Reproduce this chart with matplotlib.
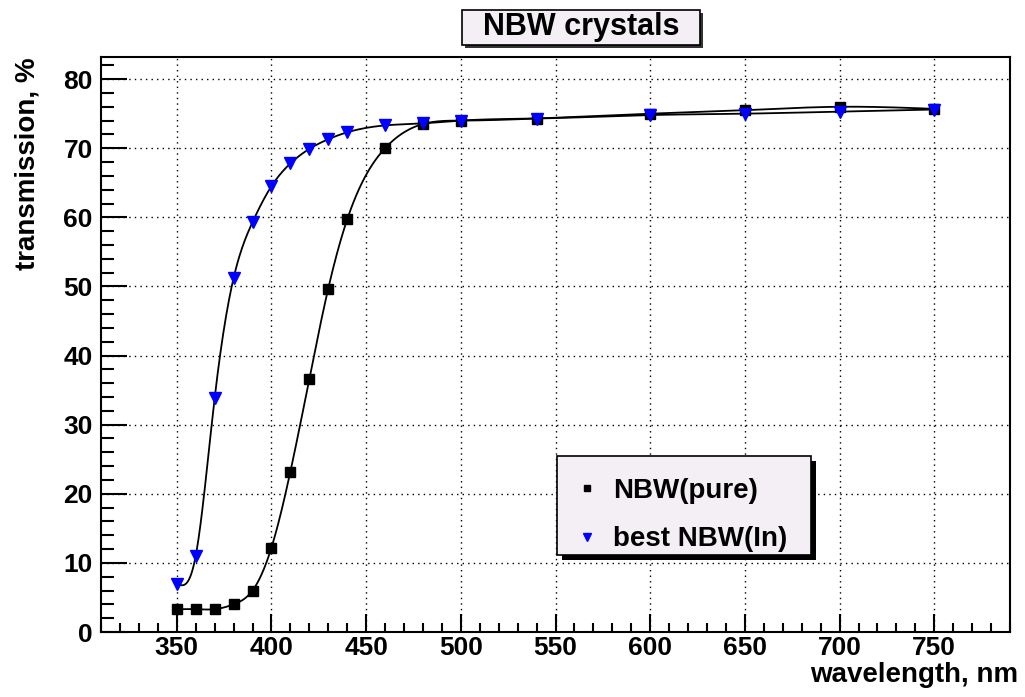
import numpy as np
import matplotlib
matplotlib.use("Agg")
import matplotlib.pyplot as plt
from matplotlib.patches import Rectangle
from matplotlib.lines import Line2D
from matplotlib.ticker import MultipleLocator

# ---- data ----
wavelength = [350, 360, 370, 380, 390, 400, 410, 420, 430, 440, 460, 480, 500, 540, 600, 650, 700, 750]
nbw_pure = [3.3, 3.3, 3.3, 4.0, 6.0, 12.2, 23.2, 36.6, 49.7, 59.7, 70.0, 73.5, 74.0, 74.3, 75.0, 75.5, 76.0, 75.7]
nbw_in = [7.0, 11.0, 33.8, 51.2, 59.3, 64.5, 67.8, 69.9, 71.3, 72.3, 73.3, 73.6, 74.0, 74.3, 74.8, 75.0, 75.3, 75.6]
series_labels = ["NBW(pure)", "best NBW(In)"]
title = "NBW crystals"
xlabel = "wavelength, nm"
ylabel = "transmission, %"


def natural_spline(x, y, xs):
    x = np.asarray(x, float); y = np.asarray(y, float)
    n = len(x)
    h = np.diff(x)
    A = np.zeros((n, n)); b = np.zeros(n)
    A[0, 0] = 1; A[-1, -1] = 1
    for i in range(1, n - 1):
        A[i, i - 1] = h[i - 1]
        A[i, i] = 2 * (h[i - 1] + h[i])
        A[i, i + 1] = h[i]
        b[i] = 6 * ((y[i + 1] - y[i]) / h[i] - (y[i] - y[i - 1]) / h[i - 1])
    M = np.linalg.solve(A, b)
    idx = np.clip(np.searchsorted(x, xs) - 1, 0, n - 2)
    x0 = x[idx]; x1 = x[idx + 1]; hh = x1 - x0
    t0 = x1 - xs; t1 = xs - x0
    return (M[idx] * t0**3 / (6 * hh) + M[idx + 1] * t1**3 / (6 * hh)
            + (y[idx] / hh - M[idx] * hh / 6) * t0
            + (y[idx + 1] / hh - M[idx + 1] * hh / 6) * t1)


W, H = 1025, 697
fig = plt.figure(figsize=(W / 100, H / 100), dpi=100)
fig.patch.set_facecolor("white")
plt.rcParams['font.family'] = ['Liberation Sans', 'DejaVu Sans']

L, R, T, B = 101, 1010, 57, 632
ax = fig.add_axes([L / W, (H - B) / H, (R - L) / W, (B - T) / H])
ax.set_xlim(310, 790)
ax.set_ylim(0, 83.2)

xs = np.linspace(350, 750, 800)
ax.plot(xs, natural_spline(wavelength, nbw_pure, xs), color="black", lw=1.3, zorder=3)
ax.plot(xs, natural_spline(wavelength, nbw_in, xs), color="black", lw=1.3, zorder=3)
ax.plot(wavelength, nbw_pure, ls="none", marker="s", ms=7.5, color="black", zorder=4)
ax.plot(wavelength, nbw_in, ls="none", marker="v", ms=8.5, color="#0000ff", zorder=4)

ax.xaxis.set_major_locator(MultipleLocator(50))
ax.xaxis.set_minor_locator(MultipleLocator(10))
ax.yaxis.set_major_locator(MultipleLocator(10))
ax.yaxis.set_minor_locator(MultipleLocator(2))
ax.grid(True, which="major", ls=(0, (1, 3)), color="black", lw=1.0)
for s in ax.spines.values():
    s.set_linewidth(1.5)
ax.tick_params(axis="x", which="major", direction="in", length=13, width=1.5, pad=3, labelsize=19)
ax.tick_params(axis="x", which="minor", direction="in", length=6.5, width=1.5)
ax.tick_params(axis="y", which="major", direction="in", length=19, width=1.5, pad=6, labelsize=19)
ax.tick_params(axis="y", which="minor", direction="in", length=9.5, width=1.5)
for lab in ax.get_xticklabels() + ax.get_yticklabels():
    lab.set_fontweight("bold")

fig.text(1018 / W, 1 - 675 / H, xlabel, ha="right", va="center", fontsize=20, fontweight="bold")
fig.text(28 / W, 1 - 57 / H, ylabel, ha="center", va="top", rotation=90, fontsize=20, fontweight="bold")

# title box with shadow
fill = "#f4eff4"
tx0, tx1, ty0, ty1 = 462, 700, 10, 45
fig.patches.append(Rectangle((tx0 / W + 3 / W, 1 - (ty1 + 3) / H), (tx1 - tx0) / W, (ty1 - ty0) / H,
                             transform=fig.transFigure, facecolor="#333333", edgecolor="none", zorder=1))
fig.patches.append(Rectangle((tx0 / W, 1 - ty1 / H), (tx1 - tx0) / W, (ty1 - ty0) / H,
                             transform=fig.transFigure, facecolor=fill, edgecolor="black", lw=1.2, zorder=2))
fig.text((tx0 + tx1) / 2 / W, 1 - (ty0 + ty1) / 2 / H, title, ha="center", va="center",
         fontsize=22, fontweight="bold", zorder=3)

# legend box with shadow
lx0, lx1, ly0, ly1 = 557, 811, 456, 555
fig.patches.append(Rectangle(((lx0 + 5) / W, 1 - (ly1 + 5) / H), (lx1 - lx0) / W, (ly1 - ly0) / H,
                             transform=fig.transFigure, facecolor="black", edgecolor="none", zorder=5))
fig.patches.append(Rectangle((lx0 / W, 1 - ly1 / H), (lx1 - lx0) / W, (ly1 - ly0) / H,
                             transform=fig.transFigure, facecolor=fill, edgecolor="black", lw=1.2, zorder=6))
handles = [Line2D([], [], ls="none", marker="s", ms=5, color="black"),
           Line2D([], [], ls="none", marker="v", ms=6, color="#0000ff")]
leg = fig.legend(handles, series_labels, loc="upper left",
                 bbox_to_anchor=(548 / W, 1 - 453 / H), frameon=False,
                 prop={"size": 20, "weight": "bold"}, handlelength=1.0, handletextpad=0.45,
                 labelspacing=0.8)
leg.set_zorder(7)

fig.savefig("out.png", dpi=100)
